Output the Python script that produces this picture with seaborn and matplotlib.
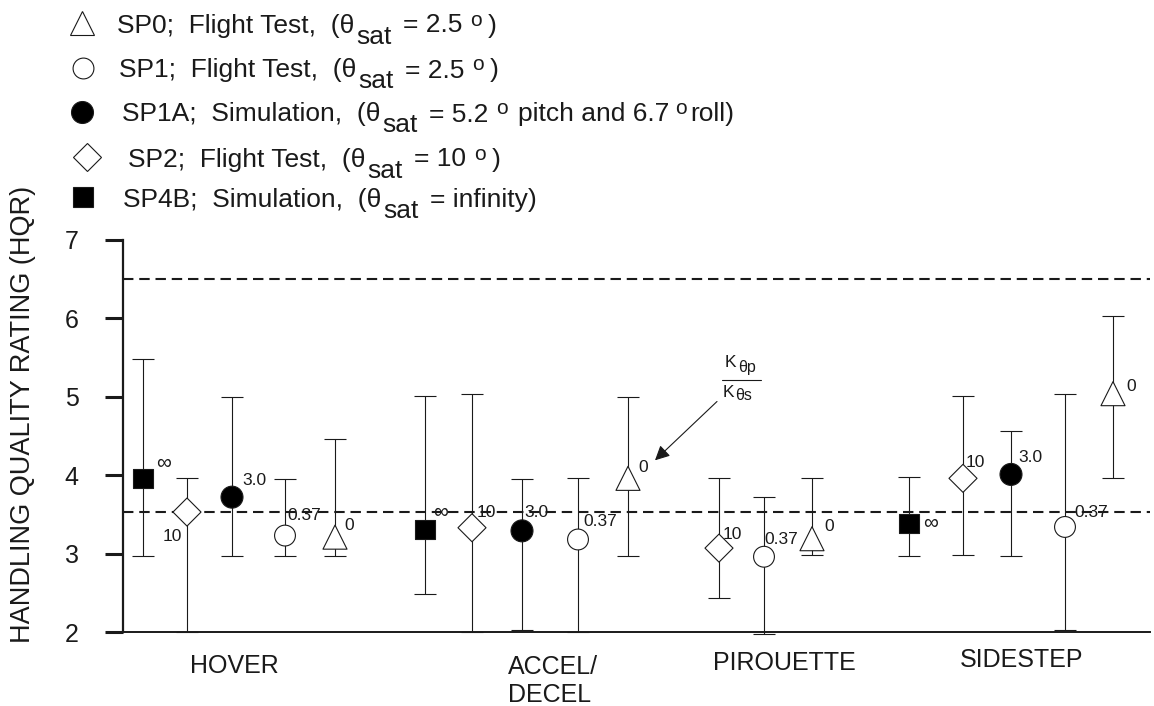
import numpy as np
import pandas as pd
import matplotlib
matplotlib.use("Agg")
import matplotlib.pyplot as plt
import seaborn as sns
from matplotlib.lines import Line2D

# ---------------- data ----------------
maneuvers = ["HOVER", "ACCEL/\nDECEL", "PIROUETTE", "SIDESTEP"]
configs = ["SP4B", "SP2", "SP1A", "SP1", "SP0"]
gain_ratio = {"SP4B": "∞", "SP2": "10", "SP1A": "3.0", "SP1": "0.37", "SP0": "0"}

hqr_sp4b = [3.96, 3.31, np.nan, 3.39]
lo_sp4b = [2.97, 2.48, np.nan, 2.97]
hi_sp4b = [5.48, 5.01, np.nan, 3.98]

hqr_sp2 = [3.53, 3.33, 3.07, 3.96]
lo_sp2 = [2.00, 2.00, 2.43, 2.98]
hi_sp2 = [3.97, 5.03, 3.96, 5.01]

hqr_sp1a = [3.72, 3.29, np.nan, 4.01]
lo_sp1a = [2.97, 2.02, np.nan, 2.97]
hi_sp1a = [5.00, 3.95, np.nan, 4.56]

hqr_sp1 = [3.23, 3.18, 2.96, 3.34]
lo_sp1 = [2.97, 2.00, 1.98, 2.02]
hi_sp1 = [3.95, 3.96, 3.72, 5.03]

hqr_sp0 = [3.21, 3.96, 3.19, 5.04]
lo_sp0 = [2.97, 2.97, 2.98, 3.96]
hi_sp0 = [4.46, 5.00, 3.96, 6.03]

level_bounds = [6.5, 3.53]
y_ticks = [2, 3, 4, 5, 6, 7]

# ---------------- layout (positions along the un-scaled x axis) ----------------
xpos = {
    "SP4B": [20, 302, np.nan, 786],
    "SP2": [64, 349, 596, 840],
    "SP1A": [109, 399, np.nan, 888],
    "SP1": [162, 455, 641, 942],
    "SP0": [212, 505, 689, 990],
}
# label offsets in pixels (dx right, dy down)
lab_off = {
    "SP4B": [(21, -15), (16, -17), None, (22, 0)],
    "SP2": [(-15, 24), (14, -15), (13, -14), (12, -16)],
    "SP1A": [(22, -17), (14, -18), None, (19, -17)],
    "SP1": [(19, -20), (22, -18), (17, -17), (26, -14)],
    "SP0": [(14, -12), (15, -11), (17, -12), (18, -7)],
}
cat_label_pos = [(111, "center", 666), (385, "left", 681), (661, "center", 663), (899, "center", 660)]

series = {
    "SP4B": (hqr_sp4b, lo_sp4b, hi_sp4b),
    "SP2": (hqr_sp2, lo_sp2, hi_sp2),
    "SP1A": (hqr_sp1a, lo_sp1a, hi_sp1a),
    "SP1": (hqr_sp1, lo_sp1, hi_sp1),
    "SP0": (hqr_sp0, lo_sp0, hi_sp0),
}
rows = []
for c in configs:
    h, lo, hi = series[c]
    for i, m in enumerate(maneuvers):
        if not np.isnan(h[i]):
            rows.append(dict(config=c, maneuver=m, x=xpos[c][i], hqr=h[i], lo=lo[i], hi=hi[i],
                             off=lab_off[c][i]))
df = pd.DataFrame(rows)

marker_map = {"SP0": "^", "SP1": "o", "SP1A": "o", "SP2": "D", "SP4B": "s"}
face_map = {"SP0": "white", "SP1": "white", "SP1A": "black", "SP2": "white", "SP4B": "black"}
size_map = {"SP0": 300, "SP1": 225, "SP1A": 250, "SP2": 204, "SP4B": 188}

# ---------------- figure ----------------
W, H = 1154, 706
sns.set_style("white")
plt.rcParams["font.family"] = ["Liberation Sans", "DejaVu Sans"]
plt.rcParams["text.color"] = "#1a1a1a"

fig = plt.figure(figsize=(W / 100, H / 100), dpi=100)
ax = fig.add_axes([123 / W, (H - 632) / H, (1150 - 123) / W, (632 - 240) / H])

ax.errorbar(df["x"], df["hqr"], yerr=[df["hqr"] - df["lo"], df["hi"] - df["hqr"]],
            fmt="none", ecolor="#1a1a1a", elinewidth=0.8, capsize=8, capthick=0.8,
            clip_on=False, zorder=2)

sns.scatterplot(data=df, x="x", y="hqr", hue="config", palette=face_map,
                style="config", markers=marker_map, size="config", sizes=size_map,
                edgecolor="#1a1a1a", linewidth=0.8, legend=False, ax=ax, zorder=3,
                clip_on=False)

for _, r in df.iterrows():
    dx, dy = r["off"]
    txt = gain_ratio[r["config"]]
    ax.annotate(txt, (r["x"], r["hqr"]), xytext=(dx, -dy), textcoords="offset pixels",
                ha="center", va="center", fontsize=15 if txt == "∞" else 12.5, zorder=4,
                annotation_clip=False)

for yb in level_bounds:
    ax.axhline(yb, color="#1a1a1a", lw=1.5, dashes=(5.0, 2.8), zorder=1)

ax.set_xlim(0, 1027)
ax.set_ylim(2, 7)
ax.set_xticks([])
ax.set_yticks(y_ticks)
ax.set_xlabel("")
ax.set_ylabel("")
ax.tick_params(axis="y", direction="out", length=13, width=2.2, pad=19, labelsize=18,
               colors="#1a1a1a", left=True)
for s in ["top", "right"]:
    ax.spines[s].set_visible(False)
ax.spines["left"].set_linewidth(1.6)
ax.spines["bottom"].set_linewidth(1.4)
ax.spines["left"].set_color("#1a1a1a")
ax.spines["bottom"].set_color("#1a1a1a")

# category labels
for m, (xp, ha, yc) in zip(maneuvers, cat_label_pos):
    ax.annotate(m, (xp, H - yc), xycoords=("data", "figure pixels"), ha=ha, va="center",
                fontsize=18, multialignment="left", linespacing=1.2, annotation_clip=False)

fig.text(23 / W, (H - 414) / H, "HANDLING QUALITY RATING (HQR)", rotation=90,
         ha="center", va="center", fontsize=19.5)

# K ratio annotation arrow
ax.annotate("", xy=(532, 4.19), xytext=(594, 4.94),
            arrowprops=dict(arrowstyle="-|>", color="#1a1a1a", lw=0.8, mutation_scale=22,
                            shrinkA=0, shrinkB=0))

fig.canvas.draw()
renderer = fig.canvas.get_renderer()


def rich(x0, ybase, pieces, base_fs, sub_fs, sup_fs, sub_dy, sup_dy):
    x = x0
    for txt, kind, gap in pieces:
        x += gap
        if kind == "m":
            fs, dy = base_fs, 0
        elif kind == "sub":
            fs, dy = sub_fs, -sub_dy
        else:
            fs, dy = sup_fs, sup_dy
        t = fig.text(x / W, (H - ybase + dy) / H, txt, fontsize=fs, ha="left", va="baseline")
        bb = t.get_window_extent(renderer)
        x = bb.x1


# fraction K_theta_p / K_theta_s
rich(725, 367, [("K", "m", 0), ("θp", "sub", 2)], 12.5, 11.5, 11, 5, 0)
rich(723, 397, [("K", "m", 0), ("θs", "sub", 1)], 12.5, 11.5, 11, 3, 0)
fig.add_artist(Line2D([721.7 / W, 761 / W], [(H - 379.5) / H] * 2, color="#1a1a1a",
                      lw=0.8, transform=fig.transFigure))

# legend
leg_rows = [
    ("SP0", 23, 117, [("SP0;  Flight Test,  (θ", "m", 0), ("sat", "sub", 2), ("= 2.5", "m", 11),
                      ("o", "sup", 8), (")", "m", 6)]),
    ("SP1", 68, 119, [("SP1;  Flight Test,  (θ", "m", 0), ("sat", "sub", 2), ("= 2.5", "m", 11),
                      ("o", "sup", 8), (")", "m", 6)]),
    ("SP1A", 112, 122, [("SP1A;  Simulation,  (θ", "m", 0), ("sat", "sub", 2), ("= 5.2", "m", 11),
                        ("o", "sup", 8), ("pitch and 6.7", "m", 10), ("o", "sup", 6),
                        ("roll)", "m", 3)]),
    ("SP2", 157, 128, [("SP2;  Flight Test,  (θ", "m", 0), ("sat", "sub", 2), ("= 10", "m", 11),
                       ("o", "sup", 8), (")", "m", 6)]),
    ("SP4B", 197, 123, [("SP4B;  Simulation,  (θ", "m", 0), ("sat", "sub", 2),
                        ("= infinity)", "m", 11)]),
]
leg_mx = {"SP0": 82, "SP1": 83, "SP1A": 82.5, "SP2": 86.7, "SP4B": 83.3}
for c, yc, xt, pieces in leg_rows:
    fig.add_artist(Line2D([leg_mx[c] / W], [(H - yc) / H], transform=fig.transFigure,
                          marker=marker_map[c], markersize=np.sqrt(size_map[c]),
                          markerfacecolor=face_map[c], markeredgecolor="#1a1a1a",
                          markeredgewidth=0.8, linestyle="none"))
    rich(xt, yc + 9.5, pieces, 19, 19, 15, 11, 7)

fig.savefig("out.png", dpi=100)
